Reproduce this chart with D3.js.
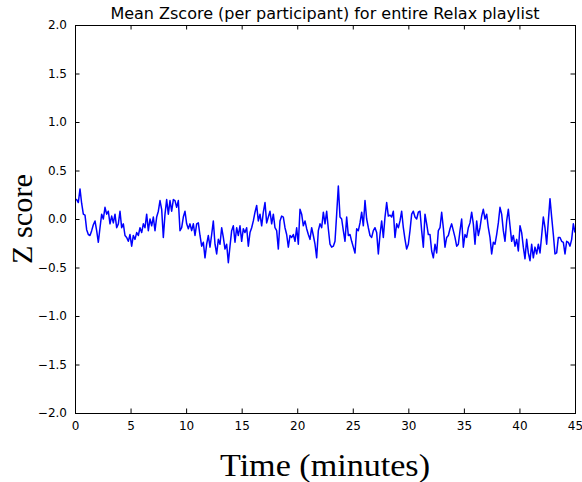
<!DOCTYPE html>
<html>
<head>
<meta charset="utf-8">
<script src="https://cdn.jsdelivr.net/npm/d3@7"></script>
<style>
  html, body { margin: 0; padding: 0; background: #fff; }
  svg { display: block; }
</style>
</head>
<body>
<svg id="chart" width="582" height="482"></svg>
<script>
// ---- data ----
const chartTitle = "Mean Zscore (per participant) for entire Relax playlist";
const xLabel = "Time (minutes)";
const yLabel = "Z score";
const xTicks = [0, 5, 10, 15, 20, 25, 30, 35, 40, 45];
const yTicks = [-2.0, -1.5, -1.0, -0.5, 0.0, 0.5, 1.0, 1.5, 2.0];
const timeStepMinutes = 0.15;   // sampling interval of the series
const zScores0to9 = [0.20,0.20,0.17,0.31,0.16,0.05,0.04,-0.11,-0.16,-0.17,
  -0.12,-0.06,-0.02,-0.12,-0.24,-0.09,0.05,0.00,0.12,0.05,
  0.08,-0.05,0.03,-0.04,0.05,-0.09,-0.05,0.08,-0.09,-0.05,
  -0.17,-0.19,-0.23,-0.16,-0.28,-0.17,-0.21,-0.14,-0.17,-0.09,
  -0.14,-0.05,-0.09,0.05,-0.12,0.00,-0.07,0.02,-0.12,0.02,
  0.08,0.19,0.10,-0.19,0.05,0.20,0.05,0.19,0.08,0.20];
const zScores9to18 = [0.19,0.12,0.19,-0.12,-0.09,0.02,0.08,-0.05,-0.10,-0.05,
  -0.12,-0.05,-0.17,-0.05,-0.04,-0.17,-0.28,-0.24,-0.40,-0.26,
  -0.17,-0.29,-0.16,-0.02,-0.26,-0.36,-0.21,-0.26,-0.09,-0.19,
  -0.31,-0.26,-0.45,-0.28,-0.12,-0.07,-0.24,-0.09,-0.17,-0.07,
  -0.23,-0.10,-0.14,-0.09,-0.28,-0.14,-0.09,-0.02,0.07,0.14,
  -0.02,0.05,-0.07,0.07,0.17,-0.04,0.02,0.08,-0.05,0.05];
const zScores18to27 = [-0.09,-0.12,-0.31,-0.02,0.03,0.02,-0.09,-0.16,-0.29,-0.17,
  -0.19,-0.16,-0.23,-0.09,-0.26,0.10,0.05,-0.07,-0.02,-0.10,
  -0.16,-0.21,-0.09,-0.17,-0.26,-0.40,-0.12,-0.05,-0.09,0.07,
  -0.05,0.08,-0.10,-0.26,-0.29,-0.28,-0.23,0.05,0.34,0.02,
  0.00,-0.12,-0.23,0.02,-0.17,-0.16,-0.23,-0.29,-0.35,-0.10,
  -0.12,-0.04,0.07,-0.07,0.19,0.00,-0.09,-0.17,-0.19,-0.12];
const zScores27to36 = [-0.09,-0.14,-0.36,-0.16,-0.02,-0.19,0.02,0.17,0.03,0.04,
  0.02,0.08,-0.19,-0.05,-0.09,-0.02,0.08,-0.09,-0.21,-0.31,
  -0.26,-0.12,0.05,0.08,0.02,0.00,0.07,0.08,-0.12,-0.29,
  0.05,-0.05,-0.16,-0.16,-0.33,-0.40,-0.26,-0.35,-0.12,-0.09,
  0.07,-0.09,-0.29,-0.19,-0.17,-0.10,-0.05,-0.12,-0.19,-0.28,
  -0.26,-0.12,0.00,-0.29,-0.16,-0.19,-0.09,-0.04,0.07,-0.05];
const zScores36to45 = [-0.26,-0.02,-0.17,-0.09,0.03,0.10,0.00,0.05,-0.09,-0.19,
  -0.36,-0.24,-0.26,-0.16,-0.04,0.12,0.05,-0.12,-0.23,-0.02,
  0.10,-0.07,-0.23,-0.17,-0.28,-0.21,-0.33,-0.07,-0.14,-0.29,
  -0.41,-0.21,-0.35,-0.43,-0.26,-0.40,-0.29,-0.36,-0.26,-0.35,
  -0.17,0.02,-0.09,-0.26,-0.02,0.21,0.02,-0.16,-0.36,-0.35,
  -0.19,-0.19,-0.23,-0.24,-0.36,-0.23,-0.24,-0.28,-0.21,-0.05,
  -0.14];

const zScores = [].concat(zScores0to9, zScores9to18, zScores18to27, zScores27to36, zScores36to45);
const series = zScores.map((v, i) => ({ t: i * timeStepMinutes, z: v }));

// ---- layout ----
const svg = d3.select("#chart");
const plotL = 75, plotR = 575, plotT = 25, plotB = 413;

const x = d3.scaleLinear().domain([0, 45]).range([plotL, plotR]);
const y = d3.scaleLinear().domain([-2, 2]).range([plotB, plotT]);

const tickFont = "'DejaVu Sans', sans-serif";
const tickLen = 4.5;

svg.append("defs").append("clipPath").attr("id", "plotclip")
  .append("rect").attr("x", plotL).attr("y", plotT).attr("width", plotR - plotL).attr("height", plotB - plotT);

const line = d3.line().x(d => x(d.t)).y(d => y(d.z));
svg.append("path")
  .datum(series)
  .attr("clip-path", "url(#plotclip)")
  .attr("fill", "none")
  .attr("stroke", "#0000ff")
  .attr("stroke-width", 1.5)
  .attr("stroke-linejoin", "round")
  .attr("d", line);

const fmtY = d3.format(".1f");
const xAxisBottom = d3.axisBottom(x).tickValues(xTicks).tickSizeInner(-tickLen).tickSizeOuter(0).tickPadding(8).tickFormat(d3.format("d"));
const xAxisTop = d3.axisTop(x).tickValues(xTicks).tickSizeInner(-tickLen).tickSizeOuter(0).tickFormat("");
const yAxisLeft = d3.axisLeft(y).tickValues(yTicks).tickSizeInner(-tickLen).tickSizeOuter(0).tickPadding(8).tickFormat(fmtY);
const yAxisRight = d3.axisRight(y).tickValues(yTicks).tickSizeInner(-tickLen).tickSizeOuter(0).tickFormat("");

function styleAxis(g) {
  g.select(".domain").remove();
  g.selectAll(".tick line").attr("stroke", "#000").attr("stroke-width", 1);
  g.selectAll(".tick text").attr("fill", "#000").style("font-family", tickFont).style("font-size", "12px");
}

svg.append("g").attr("transform", `translate(0,${plotB})`).call(xAxisBottom).call(styleAxis);
svg.append("g").attr("transform", `translate(0,${plotT})`).call(xAxisTop).call(styleAxis);
svg.append("g").attr("transform", `translate(${plotL},0)`).call(yAxisLeft).call(styleAxis);
svg.append("g").attr("transform", `translate(${plotR},0)`).call(yAxisRight).call(styleAxis);

svg.append("rect")
  .attr("x", plotL).attr("y", plotT)
  .attr("width", plotR - plotL).attr("height", plotB - plotT)
  .attr("fill", "none").attr("stroke", "#000").attr("stroke-width", 1)
  .attr("shape-rendering", "crispEdges");

svg.append("text")
  .attr("x", (plotL + plotR) / 2).attr("y", 19)
  .attr("text-anchor", "middle")
  .style("font-family", tickFont).style("font-size", "16px")
  .attr("fill", "#000")
  .text(chartTitle);

svg.append("text")
  .attr("x", (plotL + plotR) / 2).attr("y", 476)
  .attr("text-anchor", "middle")
  .style("font-family", "'Liberation Serif', 'DejaVu Serif', serif").style("font-size", "31px")
  .attr("textLength", 210).attr("lengthAdjust", "spacingAndGlyphs")
  .attr("fill", "#000")
  .text(xLabel);

svg.append("text")
  .attr("transform", `translate(32,${(plotT + plotB) / 2}) rotate(-90)`)
  .attr("text-anchor", "middle")
  .style("font-family", "'Liberation Serif', 'DejaVu Serif', serif").style("font-size", "30px")
  .attr("textLength", 90).attr("lengthAdjust", "spacingAndGlyphs")
  .attr("fill", "#000")
  .text(yLabel);
</script>
</body>
</html>
